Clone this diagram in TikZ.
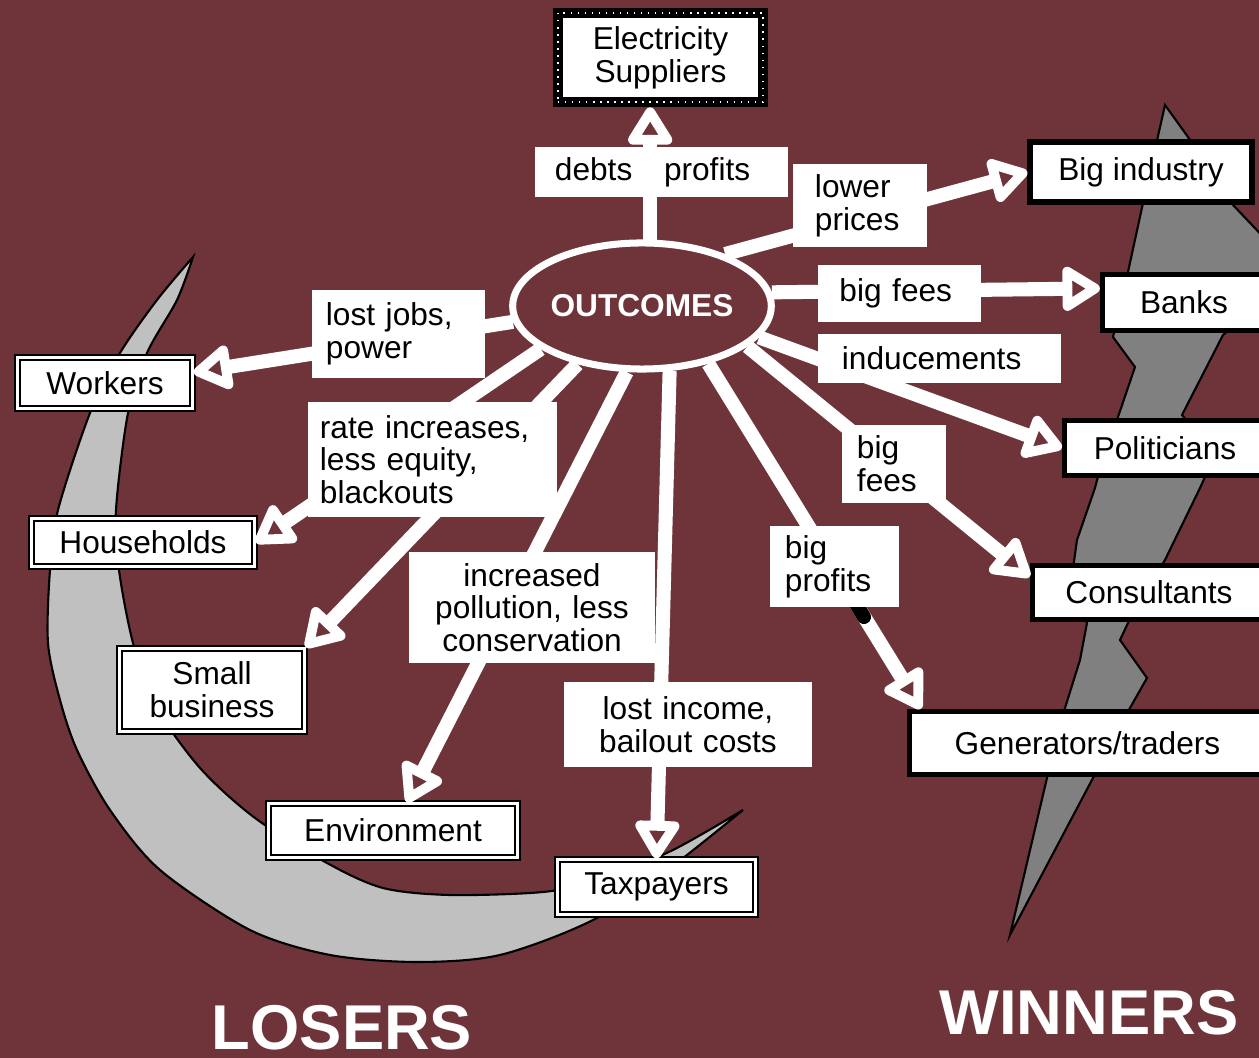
\documentclass[tikz,border=0pt]{standalone}
\usepackage{fontspec}
\setmainfont{Liberation Sans}
\usetikzlibrary{arrows.meta, shapes.geometric}
\definecolor{maroon}{RGB}{111,52,58}
\definecolor{silvergray}{RGB}{192,192,192}
\definecolor{boltgray}{RGB}{128,128,128}

\begin{document}
\begin{tikzpicture}[
        x=0.01cm, y=-0.01cm,
        every node/.style={inner sep=0pt, font=\fontsize{9}{9.3}\selectfont},
        winbox/.style={draw=black, line width=1.5pt, fill=white},
        losebox/.style={draw=black, line width=0.7pt, double=white, double distance=0.7pt, fill=white, align=center},
        suppbox/.style={draw=black, line width=3pt, fill=white, align=center,
            postaction={draw=white, line width=0.4pt, dash pattern=on 0.4pt off 1.6pt}},
        lbl/.style={fill=white, align=left},
        arr/.style={draw=white, line width=4pt, -{Triangle[open, length=12pt, width=14pt, line width=2.8pt, round]}},
        outl/.style={draw=black, line width=0.6pt},
        bigword/.style={text=white, font=\fontsize{18}{20}\selectfont\bfseries},
    ]
    \useasboundingbox (0,0) rectangle (1259,1058);
    \clip (0,0) rectangle (1259,1058);
    \fill[maroon] (0,0) rectangle (1259,1058);

    % losers crescent
    \filldraw[fill=silvergray, outl]
        plot[smooth] coordinates {(193,257) (157,300) (120,353) (90,413) (58,510) (50,570) (48,643)
            (60,700) (77,750) (110,810) (160,870) (250,930) (330,955) (417,962) (500,955) (593,920)
            (670,868) (743,810)}
        -- plot[smooth] coordinates {(743,810) (673,850) (600,880) (543,892) (450,895) (383,888)
            (327,863) (255,818) (200,768) (155,705) (133,643) (119,570) (116,510) (128,413)
            (147,353) (177,300) (193,257)}
        -- cycle;

    % winners bolt
    \filldraw[fill=boltgray, outl] (1165,105) -- (1188,137) -- (1233,205) -- (1290,265) -- (1275,320)
        -- (1240,320) -- (1223,335) -- (1182,415) -- (1215,455) -- (1200,488) -- (1165,560)
        -- (1140,600) -- (1128,623) -- (1120,640) -- (1147,678) -- (1130,708) -- (1093,778)
        -- (1010,935) -- (1047,778) -- (1065,708) -- (1080,660) -- (1087,623) -- (1070,590)
        -- (1077,540) -- (1095,488) -- (1105,450) -- (1118,417) -- (1135,367) -- (1113,337)
        -- (1128,272) -- (1143,203) -- cycle;

    % boxes
    \node[suppbox, minimum width=2.05cm, minimum height=0.89cm] (supp) at (660.5,57.5) {Electricity\\Suppliers};

    \node[winbox, minimum width=2.22cm, minimum height=0.60cm] (bigind) at (1141,172) {Big industry};
    \node[winbox, minimum width=1.63cm, minimum height=0.56cm] (banks) at (1184,302.5) {Banks};
    \node[winbox, minimum width=2.01cm, minimum height=0.55cm] (pol) at (1165,448) {Politicians};
    \node[winbox, minimum width=2.33cm, minimum height=0.54cm] (cons) at (1149,592.5) {Consultants};
    \node[winbox, minimum width=3.56cm, minimum height=0.63cm] (gen) at (1087.5,743) {Generators/traders};

    \node[losebox, minimum width=1.75cm, minimum height=0.51cm] (work) at (105,383) {Workers};
    \node[losebox, minimum width=2.23cm, minimum height=0.48cm] (house) at (143,542.5) {Households};
    \node[losebox, minimum width=1.85cm, minimum height=0.83cm] (smallbiz) at (212,690) {Small\\business};
    \node[losebox, minimum width=2.49cm, minimum height=0.54cm] (env) at (393,830.5) {Environment};
    \node[losebox, minimum width=1.98cm, minimum height=0.55cm] (tax) at (656.5,887) {Taxpayers};

    \node[ellipse, draw=white, line width=2pt, fill=maroon, minimum width=2.49cm, minimum height=1.26cm,
        text=white, font=\fontsize{9}{9.3}\selectfont\bfseries] (out) at (642,306) {OUTCOMES};

    % arrows out of the centre
    \draw[arr] (out.83) -- (out.83 |- supp.south);
    \draw[arr] (out.32) -- (bigind.west);
    \draw[arr] (out.6) -- ([yshift=4pt]banks.west);
    \draw[arr] (out.345) -- (pol.west);
    \draw[arr] (out.339) -- ([yshift=4.5pt]cons.west);
    \draw[arr] (out.319) -- ([xshift=4pt]gen.north west);
    \draw[arr] (out.293) -- (tax.north);
    \draw[arr] (out.257) -- ([xshift=4pt]env.north);
    \draw[arr] (out.222) -- (smallbiz.north east);
    \draw[arr] (out.203) -- (house.east);
    \draw[arr] (out.187) -- ([yshift=3pt]work.east);
    \draw[black, line width=4pt, line cap=round] (855,602) -- (864,617);

    % labels on the arrows
    \node[lbl, text width=2.13cm, inner xsep=0.2cm, minimum height=0.5cm] (ldebts) at (661.5,172) {debts\hspace{9pt}profits};
    \node[lbl, text width=0.9cm, inner xsep=0.22cm, minimum height=0.83cm] (llower) at (860,205.5) {lower\\prices};
    \node[lbl, text width=1.2cm, inner xsep=0.215cm, minimum height=0.57cm] (lbanks) at (899.5,293.5) {big fees};
    \node[lbl, text width=1.95cm, inner xsep=0.24cm, minimum height=0.49cm] (lpol) at (939.5,358.5) {inducements};
    \node[lbl, text width=0.74cm, inner xsep=0.15cm, minimum height=0.78cm] (lcons) at (894,464) {big\\fees};
    \node[lbl, text width=0.99cm, inner xsep=0.15cm, minimum height=0.81cm] (lgen) at (834.5,566.5) {big\\profits};
    \node[lbl, align=center, text width=2.38cm, inner xsep=0.05cm, minimum height=0.85cm] (ltax) at (688,724.5) {lost income,\\bailout costs};
    \node[lbl, align=center, text width=2.36cm, inner xsep=0.05cm, minimum height=1.11cm] (lenv) at (532,607.5) {increased\\pollution, less\\conservation};
    \node[lbl, text width=2.25cm, inner xsep=0.12cm, minimum height=1.15cm] (lhouse) at (432.5,459.5) {rate increases,\\less equity,\\blackouts};
    \node[lbl, text width=1.45cm, inner xsep=0.14cm, minimum height=0.88cm] (lwork) at (398.5,334) {lost jobs,\\power};

    \node[bigword] (losers) at (342,1028) {LOSERS};
    \node[bigword] (winners) at (1089,1013) {WINNERS};
\end{tikzpicture}
\end{document}
